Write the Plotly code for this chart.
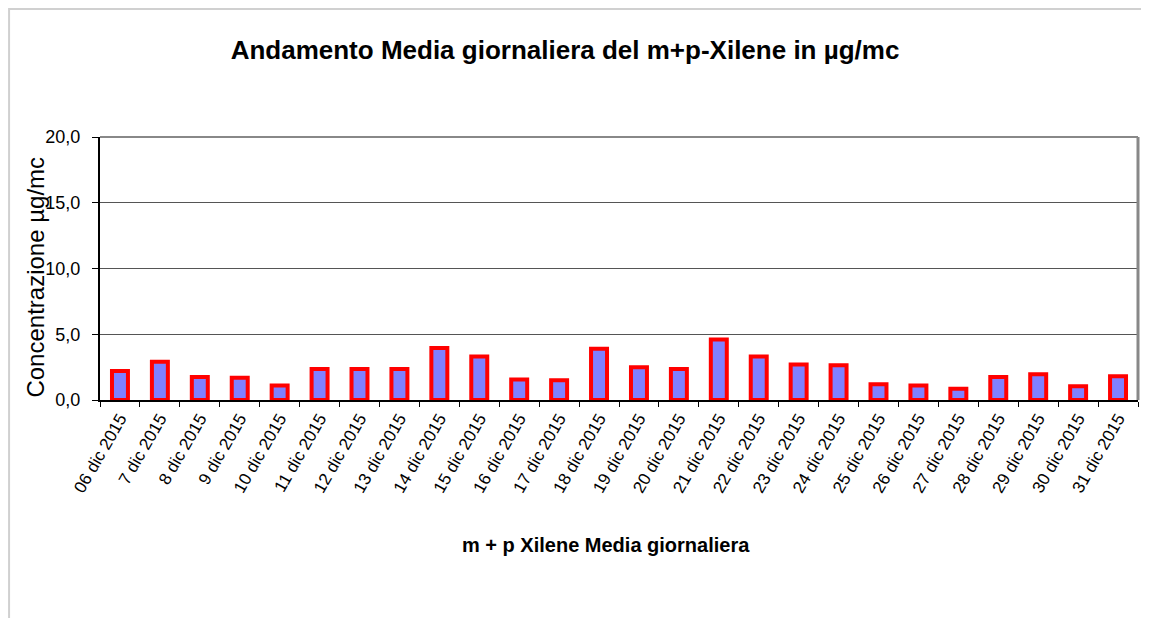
import plotly.graph_objects as go

giorni = ["06 dic 2015"] + [f"{d} dic 2015" for d in range(7, 32)]
valori = [2.2, 2.9, 1.75, 1.7, 1.1, 2.35, 2.35, 2.35, 3.95, 3.3, 1.55, 1.5, 3.9,
          2.5, 2.35, 4.6, 3.3, 2.7, 2.65, 1.2, 1.1, 0.85, 1.75, 1.95, 1.05, 1.8]
y_ticks = [0, 5, 10, 15, 20]

font = "Liberation Sans, Arial, sans-serif"

fig = go.Figure(go.Bar(
    x=giorni, y=valori,
    marker=dict(color="#8080FF", line=dict(color="#FF0000", width=4)),
))

fig.update_layout(
    width=1141, height=610,
    margin=dict(l=92, r=11, t=129, b=218),
    paper_bgcolor="white", plot_bgcolor="white",
    font=dict(family=font, color="black"),
    separators=",.",
    bargap=0.6,
    showlegend=False,
    title=dict(text="<b>Andamento Media giornaliera del m+p-Xilene in µg/mc</b>",
               x=0.448, xref="paper", xanchor="center",
               y=0.931, yref="container", yanchor="middle",
               font=dict(size=26)),
    shapes=[dict(type="rect", xref="paper", yref="paper",
                 x0=-0.0876, y0=-1, x1=1.2, y1=1.487,
                 line=dict(color="#d0d0d0", width=2), layer="below")],
)

fig.update_xaxes(
    tickangle=-60, tickfont=dict(size=17),
    showline=True, linecolor="black", linewidth=2,
    ticks="outside", ticklen=5, tickcolor="black",
    tickson="boundaries",
)
fig.update_yaxes(
    range=[0, 20], tickvals=y_ticks, tickformat=".1f", tickfont=dict(size=18),
    showline=True, linecolor="black", linewidth=2,
    ticks="outside", ticklen=6, tickcolor="black", ticklabelstandoff=8,
    showgrid=True, gridcolor="#555555", gridwidth=1,
)

# axis titles placed like the original (y title overlaps the tick labels)
fig.add_annotation(text="Concentrazione µg/mc", textangle=-90, showarrow=False,
                   xref="paper", yref="paper", x=-0.062, y=0.468,
                   xanchor="center", yanchor="middle", font=dict(size=24))
fig.add_annotation(text="<b>m + p Xilene Media giornaliera</b>", showarrow=False,
                   xref="paper", yref="paper", x=0.4875, y=-0.551,
                   xanchor="center", yanchor="middle", font=dict(size=20))

# top and right border of plot area in gray
fig.add_shape(type="line", xref="paper", yref="paper", x0=0, y0=1, x1=1, y1=1,
              line=dict(color="#888888", width=2))
fig.add_shape(type="line", xref="paper", yref="paper", x0=1, y0=0, x1=1, y1=1,
              line=dict(color="#888888", width=3))

fig.write_html("out.html")
